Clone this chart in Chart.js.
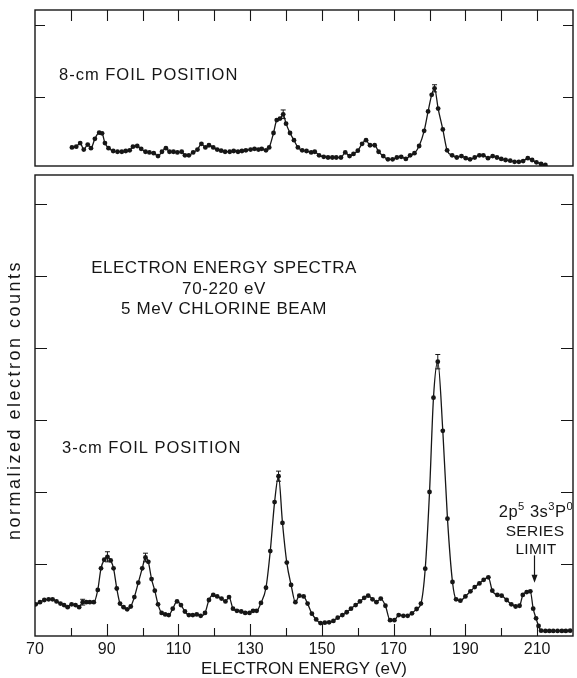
<!DOCTYPE html>
<html>
<head>
<meta charset="utf-8">
<script src="https://cdn.jsdelivr.net/npm/chart.js@4.4.1/dist/chart.umd.min.js"></script>
<style>
  html, body { margin: 0; padding: 0; background: #fff; }
  #wrap { position: relative; width: 577px; height: 678px; overflow: hidden; }
  #c8 { position: absolute; left: 0; top: 0; }
  #c3 { position: absolute; left: 0; top: 170px; }
</style>
</head>
<body>
<div id="wrap">
  <canvas id="c8" width="577" height="170"></canvas>
  <canvas id="c3" width="577" height="508"></canvas>
</div>
<script>
// ---------------- DATA ----------------
// 3-cm foil position (lower panel): electron energy (eV) and normalized counts
const energy3 = [70.2,71.4,72.6,73.8,74.9,76.0,77.1,78.1,79.1,80.2,81.3,82.3,83.3,84.3,85.3,86.4,87.5,88.4,89.3,90.2,
  91.1,91.9,92.8,93.7,94.7,95.7,96.7,97.7,98.8,99.9,100.8,101.6,102.5,103.4,104.3,105.3,106.3,107.3,108.4,109.6,
  110.7,111.8,112.9,114.0,115.1,116.2,117.4,118.5,119.7,120.8,122.0,123.1,124.1,125.2,126.3,127.5,128.6,129.8,130.8,131.8,
  133.0,134.4,135.6,136.8,137.9,139.0,140.2,141.4,142.6,143.7,144.9,146.0,147.2,148.4,149.6,150.8,152.0,153.2,154.4,155.7,
  156.9,158.1,159.4,160.6,161.8,162.9,164.1,165.2,166.4,167.7,169.0,170.2,171.4,172.7,173.9,175.1,176.4,177.6,178.8,180.0,
  181.1,182.3,183.7,185.0,186.4,187.4,188.6,190.0,191.4,192.6,193.9,195.1,196.4,197.5,198.9,200.1,201.5,202.8,204.0,205.1,
  206.0,207.1,208.1,208.9,209.7,210.4,211.1,212.3,213.4,214.5,215.7,216.9,218.0,219.2];
const counts3 = [0.44,0.47,0.50,0.51,0.51,0.48,0.45,0.43,0.40,0.44,0.43,0.40,0.47,0.47,0.47,0.47,0.64,0.94,1.06,1.10,
  1.05,0.94,0.66,0.45,0.40,0.37,0.41,0.54,0.74,0.94,1.09,1.03,0.79,0.63,0.44,0.32,0.30,0.29,0.38,0.48,
  0.43,0.34,0.29,0.29,0.30,0.28,0.32,0.50,0.57,0.55,0.52,0.48,0.54,0.38,0.35,0.34,0.32,0.32,0.35,0.35,
  0.46,0.67,1.18,1.86,2.22,1.57,1.02,0.71,0.47,0.56,0.55,0.45,0.31,0.23,0.18,0.185,0.19,0.21,0.255,0.29,
  0.33,0.38,0.43,0.48,0.53,0.56,0.51,0.47,0.52,0.42,0.22,0.22,0.29,0.28,0.28,0.315,0.375,0.45,0.935,2.00,
  3.31,3.81,2.85,1.63,0.75,0.51,0.49,0.55,0.62,0.68,0.73,0.78,0.815,0.63,0.57,0.56,0.50,0.44,0.41,0.42,
  0.57,0.61,0.62,0.38,0.245,0.14,0.074,0.07,0.07,0.07,0.07,0.07,0.07,0.074];

// 8-cm foil position (upper panel)
const energy8 = [80.3,81.5,82.6,83.6,84.7,85.6,86.7,87.9,88.7,89.5,90.5,91.8,93.0,94.2,95.3,96.4,97.3,98.5,99.6,100.8,
  101.9,103.1,104.3,105.4,106.5,107.5,108.6,109.7,110.9,111.8,112.9,114.1,115.3,116.4,117.5,118.5,119.7,120.8,121.9,123.0,
  124.3,125.4,126.6,127.7,128.8,130.1,131.2,132.3,133.2,134.4,135.3,136.5,137.4,138.3,139.2,140.0,141.1,142.2,143.3,144.5,
  145.7,147.0,148.0,149.2,150.5,151.7,152.9,154.0,155.3,156.5,157.7,158.8,160.0,161.2,162.3,163.4,164.7,165.8,167.1,168.4,
  169.7,170.9,172.1,173.4,174.6,175.8,177.1,178.5,179.6,180.6,181.4,182.4,183.7,184.9,186.3,187.6,188.9,190.1,191.3,192.6,
  193.9,195.0,196.3,197.6,198.8,200.0,201.2,202.5,203.7,204.9,206.1,207.4,208.6,209.8,211.1,212.3];
const counts8 = [0.30,0.31,0.36,0.27,0.34,0.29,0.42,0.505,0.495,0.36,0.29,0.25,0.24,0.24,0.25,0.26,0.31,0.32,0.28,0.24,
  0.23,0.22,0.18,0.24,0.29,0.24,0.24,0.23,0.24,0.19,0.19,0.23,0.27,0.35,0.30,0.33,0.30,0.27,0.255,0.24,
  0.24,0.25,0.24,0.25,0.26,0.27,0.28,0.27,0.28,0.26,0.30,0.50,0.68,0.70,0.76,0.63,0.50,0.40,0.30,0.26,
  0.25,0.23,0.24,0.19,0.17,0.16,0.16,0.16,0.16,0.23,0.18,0.21,0.255,0.35,0.40,0.33,0.33,0.24,0.18,0.134,
  0.134,0.16,0.17,0.14,0.19,0.22,0.32,0.53,0.80,1.03,1.12,0.84,0.55,0.26,0.19,0.16,0.18,0.15,0.134,0.16,
  0.19,0.19,0.15,0.18,0.16,0.14,0.125,0.116,0.10,0.10,0.11,0.15,0.125,0.093,0.07,0.056];

// error bars: energy, value, half-length
const err3E = [83.3, 90.2, 100.8, 137.9, 182.3];
const err3V = [0.47, 1.10, 1.09, 2.22, 3.81];
const err3D = [0.04, 0.07, 0.06, 0.07, 0.10];
const err8E = [139.2, 181.4];
const err8V = [0.76, 1.12];
const err8D = [0.06, 0.05];

// axes
const xTickValues = [80,90,100,110,120,130,140,150,160,170,180,190,200,210];
const xLabelValues = [70,90,110,130,150,170,190,210];
const y3TickValues = [1,2,3,4,5,6];
const y8TickValues = [1,2];
const arrowEnergy = 209;
const arrowFrom = 1.12, arrowTo = 0.74;

// ---------------- DRAWING ----------------
const INK = '#161616';
const FONT = '"Liberation Sans", Arial, sans-serif';

function pts(ex, ey) { return ex.map((e, i) => ({ x: e, y: ey[i] })); }

function frameAndTicks(chart, opts) {
  const ctx = chart.ctx, a = chart.chartArea;
  const xs = chart.scales.x, ys = chart.scales.y;
  ctx.save();
  ctx.strokeStyle = INK;
  ctx.lineWidth = 1.4;
  ctx.strokeRect(a.left, a.top, a.right - a.left, a.bottom - a.top);
  ctx.lineWidth = 1.1;
  ctx.beginPath();
  xTickValues.forEach(v => {
    const px = Math.round(xs.getPixelForValue(v)) + 0.5;
    if (opts.xEdge === 'bottom') {
      const len = xLabelValues.includes(v) ? 12 : 8;
      ctx.moveTo(px, a.bottom); ctx.lineTo(px, a.bottom - len);
    } else {
      ctx.moveTo(px, a.top); ctx.lineTo(px, a.top + 11);
    }
  });
  opts.yTicks.forEach(v => {
    const py = Math.round(ys.getPixelForValue(v)) + 0.5;
    ctx.moveTo(a.left, py); ctx.lineTo(a.left + opts.yLen, py);
    ctx.moveTo(a.right, py); ctx.lineTo(a.right - opts.yLen, py);
  });
  ctx.stroke();
  // error bars
  ctx.lineWidth = 1;
  ctx.beginPath();
  opts.errE.forEach((e, i) => {
    const px = xs.getPixelForValue(e);
    const y1 = ys.getPixelForValue(opts.errV[i] + opts.errD[i]);
    const y2 = ys.getPixelForValue(opts.errV[i] - opts.errD[i]);
    ctx.moveTo(px, y1); ctx.lineTo(px, y2);
    ctx.moveTo(px - 2.5, y1); ctx.lineTo(px + 2.5, y1);
    ctx.moveTo(px - 2.5, y2); ctx.lineTo(px + 2.5, y2);
  });
  ctx.stroke();
  ctx.restore();
}

function drawText(ctx, text, x, y, size, align, spacing, rot) {
  ctx.save();
  ctx.font = size + 'px ' + FONT;
  ctx.fillStyle = INK;
  ctx.textAlign = align;
  ctx.textBaseline = 'middle';
  ctx.letterSpacing = (spacing || 0) + 'px';
  ctx.translate(x, y);
  if (rot) ctx.rotate(rot);
  ctx.fillText(text, 0, 0);
  ctx.restore();
}

function drawRich(ctx, parts, cx, cy, size, spacing) {
  ctx.save();
  ctx.fillStyle = INK;
  ctx.textBaseline = 'alphabetic';
  ctx.letterSpacing = (spacing || 0) + 'px';
  let total = 0;
  const widths = parts.map(p => {
    ctx.font = (p[1] ? size * 0.68 : size) + 'px ' + FONT;
    const w = ctx.measureText(p[0]).width; total += w; return w;
  });
  let x = cx - total / 2;
  const base = cy + size * 0.36;
  parts.forEach((p, i) => {
    ctx.font = (p[1] ? size * 0.68 : size) + 'px ' + FONT;
    ctx.textAlign = 'left';
    ctx.fillText(p[0], x, p[1] ? base - size * 0.42 : base);
    x += widths[i];
  });
  ctx.restore();
}

const commonScales = (yMin, yMax, xFit, yFit) => ({
  x: {
    type: 'linear', min: 70, max: 220,
    grid: { display: false, drawTicks: false }, border: { display: false },
    ticks: { display: false },
    afterFit: s => { s.height = xFit; }
  },
  y: {
    type: 'linear', min: yMin, max: yMax,
    grid: { display: false, drawTicks: false }, border: { display: false },
    ticks: { display: false },
    afterFit: s => { s.width = yFit; }
  }
});

const lineDataset = (data) => ({
  data: data,
  borderColor: INK,
  borderWidth: 1.3,
  pointRadius: 2.4,
  pointBackgroundColor: INK,
  pointBorderWidth: 0,
  cubicInterpolationMode: 'monotone',
  fill: false
});

// ---- upper panel (8-cm foil) ----
const scales8 = commonScales(0.042, 2.208, 4, 35);
new Chart(document.getElementById('c8'), {
  type: 'line',
  data: { datasets: [lineDataset(pts(energy8, counts8))] },
  options: {
    responsive: false, animation: false, devicePixelRatio: 1,
    layout: { padding: { top: 10, right: 1, left: 0, bottom: 0 } },
    plugins: { legend: { display: false }, tooltip: { enabled: false } },
    scales: scales8
  },
  plugins: [{
    id: 'deco8',
    afterDraw(chart) {
      frameAndTicks(chart, { xEdge: 'top', yTicks: y8TickValues, yLen: 10, errE: err8E, errV: err8V, errD: err8D });
      drawText(chart.ctx, '8-cm FOIL POSITION', 59, 75, 16.5, 'left', 1);
    }
  }]
});

// ---- lower panel (3-cm foil) ----
const scales3 = commonScales(0, 6.403, 42, 35);
scales3.x.afterBuildTicks = s => { s.ticks = xLabelValues.map(v => ({ value: v })); };
scales3.x.ticks = {
  display: true, autoSkip: false, maxRotation: 0, padding: 4, color: INK,
  font: { family: FONT, size: 16 },
  callback: v => String(v)
};
scales3.x.title = { display: true, text: 'ELECTRON ENERGY (eV)', color: INK,
  font: { family: FONT, size: 17 }, padding: { top: 0, bottom: -2 } };

new Chart(document.getElementById('c3'), {
  type: 'line',
  data: { datasets: [lineDataset(pts(energy3, counts3))] },
  options: {
    responsive: false, animation: false, devicePixelRatio: 1,
    layout: { padding: { top: 5, right: 1, left: 0, bottom: 0 } },
    plugins: { legend: { display: false }, tooltip: { enabled: false } },
    scales: scales3
  },
  plugins: [{
    id: 'deco3',
    afterDraw(chart) {
      const ctx = chart.ctx;
      frameAndTicks(chart, { xEdge: 'bottom', yTicks: y3TickValues, yLen: 12, errE: err3E, errV: err3V, errD: err3D });
      // y-axis title
      drawText(ctx, 'normalized electron counts', 15, 230, 18, 'center', 2.5, -Math.PI / 2);
      drawText(ctx, 'ELECTRON ENERGY SPECTRA', 224, 98, 17, 'center', 0.5);
      drawText(ctx, '70-220 eV', 224, 119, 17, 'center', 0.6);
      drawText(ctx, '5 MeV CHLORINE BEAM', 224, 139, 17, 'center', 0.6);
      drawText(ctx, '3-cm FOIL POSITION', 62, 278, 16.5, 'left', 1);
      drawRich(ctx, [['2p', 0], ['5', 1], [' 3s', 0], ['3', 1], ['P', 0], ['0', 1]], 536, 341, 16.5, 0.5);
      drawText(ctx, 'SERIES', 535, 362, 15.5, 'center', 0.3);
      drawText(ctx, 'LIMIT', 536, 380, 15.5, 'center', 0.3);
      // arrow
      const xs = chart.scales.x, ys = chart.scales.y;
      const ax = Math.round(xs.getPixelForValue(arrowEnergy)) + 0.5;
      const y1 = ys.getPixelForValue(arrowFrom), y2 = ys.getPixelForValue(arrowTo);
      ctx.save();
      ctx.strokeStyle = INK; ctx.fillStyle = INK; ctx.lineWidth = 1.2;
      ctx.beginPath(); ctx.moveTo(ax, y1); ctx.lineTo(ax, y2 - 6); ctx.stroke();
      ctx.beginPath(); ctx.moveTo(ax - 3, y2 - 8); ctx.lineTo(ax + 3, y2 - 8); ctx.lineTo(ax, y2); ctx.closePath(); ctx.fill();
      ctx.restore();
    }
  }]
});
</script>
</body>
</html>
